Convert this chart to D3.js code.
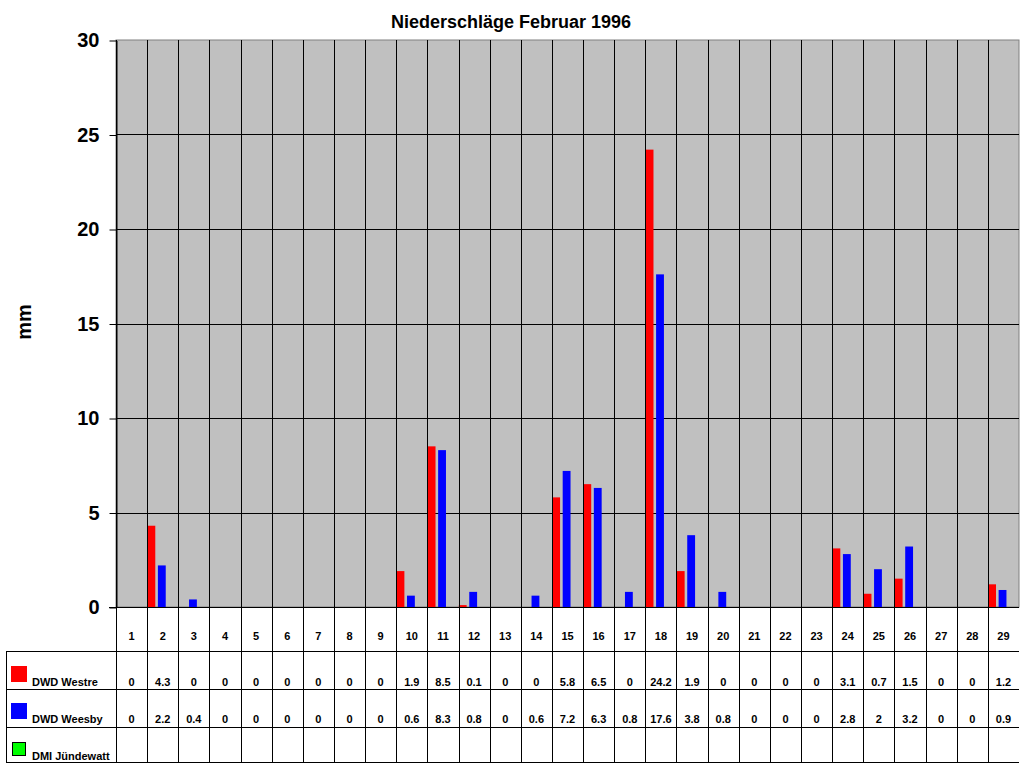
<!DOCTYPE html>
<html>
<head>
<meta charset="utf-8">
<script src="https://cdn.jsdelivr.net/npm/d3@7"></script>
<style>
  body { margin: 0; background: #fff; }
  text { font-family: Arial, "Liberation Sans", sans-serif; font-weight: bold; }
</style>
</head>
<body>
<div id="chart"></div>
<script>
// Niederschläge Februar 1996, daily sums in mm
var days = ["1","2","3","4","5","6","7","8","9","10","11","12","13","14","15","16","17","18","19","20","21","22","23","24","25","26","27","28","29"]
var westre = [0,4.3,0,0,0,0,0,0,0,1.9,8.5,0.1,0,0,5.8,6.5,0,24.2,1.9,0,0,0,0,3.1,0.7,1.5,0,0,1.2]
var weesby = [0,2.2,0.4,0,0,0,0,0,0,0.6,8.3,0.8,0,0.6,7.2,6.3,0.8,17.6,3.8,0.8,0,0,0,2.8,2,3.2,0,0,0.9]
var juendewatt = []   // no data this month
var seriesNames = ["DWD Westre", "DWD Weesby", "DMI Jündewatt"]
var seriesColors = ["#ff0000", "#0000ff", "#00ff00"]
var yTicks = [0, 5, 10, 15, 20, 25, 30]

var width = 1024, height = 768
var plot = {left: 116, right: 1019, top: 40, bottom: 607}
var rows = [607, 651, 689, 726.5, 762]   // table row borders

var svg = d3.select("#chart")
  .append("svg")
  .attr("width", width)
  .attr("height", height)

var series = [westre, weesby, juendewatt]

var x = d3.scaleBand()
  .domain(days)
  .range([plot.left, plot.right])

var x1 = d3.scaleBand()
  .domain(d3.range(series.length))
  .range([0.3, x.bandwidth()])
  .paddingInner(0.25)
  .paddingOuter(0.1)
  .align(0)

var y = d3.scaleLinear()
  .domain([0, 30])
  .range([plot.bottom, plot.top])

// plot background
svg.append("rect")
  .attr("x", plot.left)
  .attr("y", plot.top)
  .attr("width", plot.right - plot.left)
  .attr("height", plot.bottom - plot.top)
  .attr("fill", "#c0c0c0")
  .attr("stroke", "#808080")
  .attr("stroke-width", 1)

// horizontal gridlines
svg.append("g")
  .selectAll("line")
  .data(yTicks.filter(d => d > 0 && d < 30))
  .enter()
  .append("line")
  .attr("x1", plot.left)
  .attr("x2", plot.right)
  .attr("y1", d => Math.round(y(d)) + 0.5)
  .attr("y2", d => Math.round(y(d)) + 0.5)
  .attr("stroke", "#000")

// bars
series.forEach(function(vals, i) {
  svg.append("g")
    .selectAll("rect")
    .data(vals.map((v, j) => ({day: days[j], v: v})).filter(d => d.v > 0))
    .enter()
    .append("rect")
    .attr("x", d => x(d.day) + x1(i))
    .attr("width", x1.bandwidth())
    .attr("y", d => y(d.v))
    .attr("height", d => y(0) - y(d.v))
    .attr("fill", seriesColors[i])
})

// vertical column lines, running down through the table
svg.append("g")
  .selectAll("line")
  .data(days)
  .enter()
  .append("line")
  .attr("x1", d => Math.round(x(d)) + 0.5)
  .attr("x2", d => Math.round(x(d)) + 0.5)
  .attr("y1", plot.top)
  .attr("y2", rows[4])
  .attr("stroke", "#000")

// y axis
var yAxis = svg.append("g")
  .attr("transform", "translate(" + (plot.left + 0.5) + ",0.5)")
  .call(d3.axisLeft(y)
    .tickValues(yTicks)
    .tickSize(7)
    .tickSizeOuter(0)
    .tickPadding(10))
yAxis.select(".domain").attr("stroke", "#000")
yAxis.selectAll(".tick line").attr("stroke", "#000")
yAxis.selectAll(".tick text")
  .attr("font-size", 20)
  .attr("font-family", "Arial, 'Liberation Sans', sans-serif")
  .attr("font-weight", "bold")
  .attr("fill", "#000")

// zero line / table top
svg.append("line")
  .attr("x1", plot.left - 7).attr("x2", plot.right)
  .attr("y1", rows[0] + 0.5).attr("y2", rows[0] + 0.5)
  .attr("stroke", "#000")

// table row lines
svg.append("g")
  .selectAll("line")
  .data(rows.slice(1))
  .enter()
  .append("line")
  .attr("x1", 6)
  .attr("x2", plot.right)
  .attr("y1", d => Math.round(d) + 0.5)
  .attr("y2", d => Math.round(d) + 0.5)
  .attr("stroke", "#000")

svg.append("line")
  .attr("x1", 6.5).attr("x2", 6.5)
  .attr("y1", rows[1]).attr("y2", rows[4] + 1)
  .attr("stroke", "#000")

// header row: day numbers
svg.append("g")
  .selectAll("text")
  .data(days)
  .enter()
  .append("text")
  .attr("x", d => x(d) + x.bandwidth() / 2)
  .attr("y", 640)
  .attr("text-anchor", "middle")
  .attr("font-size", 11)
  .text(d => d)

// value rows
var rowBase = [685.5, 722.5, 759.5]
series.forEach(function(vals, i) {
  svg.append("g")
    .selectAll("text")
    .data(vals.map((v, j) => ({day: days[j], v: v})))
    .enter()
    .append("text")
    .attr("x", d => x(d.day) + x.bandwidth() / 2)
    .attr("y", rowBase[i])
    .attr("text-anchor", "middle")
    .attr("font-size", 11)
    .text(d => d.v)
})

// legend keys in the table
var keyBoxes = [
  {x: 11, y: 666, w: 16, h: 16, stroke: "none"},
  {x: 11, y: 703, w: 16, h: 16, stroke: "none"},
  {x: 12.5, y: 742.5, w: 13, h: 13, stroke: "#000"}
]
seriesNames.forEach(function(name, i) {
  var b = keyBoxes[i]
  svg.append("rect")
    .attr("x", b.x).attr("y", b.y)
    .attr("width", b.w).attr("height", b.h)
    .attr("fill", seriesColors[i])
    .attr("stroke", b.stroke)
  svg.append("text")
    .attr("x", 32)
    .attr("y", rowBase[i])
    .attr("font-size", 11)
    .text(name)
})

// title
svg.append("text")
  .attr("x", 511)
  .attr("y", 28)
  .attr("text-anchor", "middle")
  .attr("font-size", 18)
  .text("Niederschläge Februar 1996")

// y axis label
svg.append("text")
  .attr("transform", "translate(31,322) rotate(-90)")
  .attr("text-anchor", "middle")
  .attr("font-size", 20)
  .text("mm")
</script>
</body>
</html>
